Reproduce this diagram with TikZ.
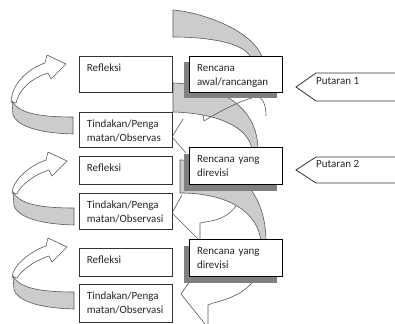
\documentclass[tikz,border=0pt]{standalone}
\usepackage{fontspec}
\setmainfont{Carlito}
\usetikzlibrary{shadows}
\tikzset{
	teks/.style={inner sep=0pt, font=\fontsize{11}{14}\selectfont, text=black!85},
	kotak/.style={teks, draw=black!80, line width=0.8pt, fill=white, anchor=north west,
		inner xsep=7.5pt, inner ysep=0pt, text width=78pt, align=left, text height=15pt},
	rencana/.style={kotak, draw=black, line width=1pt,
		general shadow={fill=black!50, shadow xshift=-6pt, shadow yshift=-6pt}},
	pita/.style={draw=black!65, line width=0.6pt, fill=black!20},
	batang/.style={draw=black!65, line width=0.6pt, fill=white},
	garis/.style={draw=black!65, line width=0.6pt},
	putaran/.style={draw=black!80, line width=0.8pt, fill=white}
}
\begin{document}
\begin{tikzpicture}[x=1pt,y=-1pt]
	\useasboundingbox (0,0) rectangle (395,323);
	\foreach \tx/\ty/\h in {66/64/53, 67/161/47, 67/247/45}{
		\begin{scope}[shift={(\tx,\ty)}]
			\draw[batang] (0,0) -- (-19,-9) -- (-21,-1) .. controls (-36,4) and (-54,18) .. (-55,{\h-15})
				-- (-50,{\h-14}) .. controls (-47,25) and (-34,14) .. (-18,9) -- (-15,15) -- cycle;
			\draw[pita] (-54,{\h-16}) .. controls (-48,{\h-5}) and (-31,\h) .. (7,\h) -- (7,{\h+17})
				.. controls (-31,{\h+16}) and (-49,{\h+8}) .. (-53,{\h-2}) -- cycle;
		\end{scope}
	}
	\draw[pita] (173,10) .. controls (200,12) and (255,30) .. (263,60) -- (251,60)
		.. controls (250,45) and (215,37) .. (173,37) -- cycle;
	\draw[pita] (173,83) .. controls (225,85) and (258,110) .. (258,150) -- (252,150)
		.. controls (249,126) and (215,113) .. (173,112) -- cycle;
	\draw[pita] (180,160) .. controls (240,160) and (266,195) .. (266,242) -- (261,242)
		.. controls (258,210) and (225,193) .. (180,193) -- cycle;
	\draw[garis] (183,119) -- (172,137) -- (186,153);
	\draw[garis] (203,115) -- (204,121) .. controls (225,108) and (245,99) .. (256,97)
		.. controls (262,96) and (266,104) .. (266,116);
	\draw[garis] (182,195) -- (172,213) -- (199,240);
	\draw[garis] (200,240) -- (200,223) -- (211,221) .. controls (222,219) and (230,214) .. (236,206);
	\draw[garis] (190,281) -- (181,294) -- (205,324);
	\draw[garis] (208,324) -- (208,305) -- (213,303) .. controls (230,299) and (246,292) .. (254,280);
	\node[kotak, text depth=21pt] (refleksi1) at (79,56) {Refleksi};
	\node[kotak, text depth=20pt] (tindakan1) at (79,112) {Tindakan/Penga\\matan/Observas};
	\node[kotak, text depth=13pt] (refleksi2) at (79,156) {Refleksi};
	\node[kotak, text depth=21pt] (tindakan2) at (79,193) {Tindakan/Penga\\matan/Observasi};
	\node[kotak, text depth=13pt] (refleksi3) at (79,248) {Refleksi};
	\node[kotak, text depth=23pt] (tindakan3) at (79,284) {Tindakan/Penga\\matan/Observasi};
	\node[rencana, text depth=21pt] (rencana1) at (189,56) {Rencana\\awal/rancangan};
	\node[rencana, text depth=22pt] (rencana2) at (189,147) {Rencana yang\\direvisi};
	\node[rencana, text depth=22pt] (rencana3) at (189,239) {Rencana yang\\direvisi};
	\draw[putaran] (296,87) -- (316,73) -- (400,73) -- (400,101) -- (316,101) -- cycle;
	\node[teks, anchor=base west] (putaran1) at (316,85) {Putaran 1};
	\draw[putaran] (296,170) -- (316,157) -- (400,157) -- (400,183) -- (316,183) -- cycle;
	\node[teks, anchor=base west] (putaran2) at (316,167) {Putaran 2};
\end{tikzpicture}
\end{document}
